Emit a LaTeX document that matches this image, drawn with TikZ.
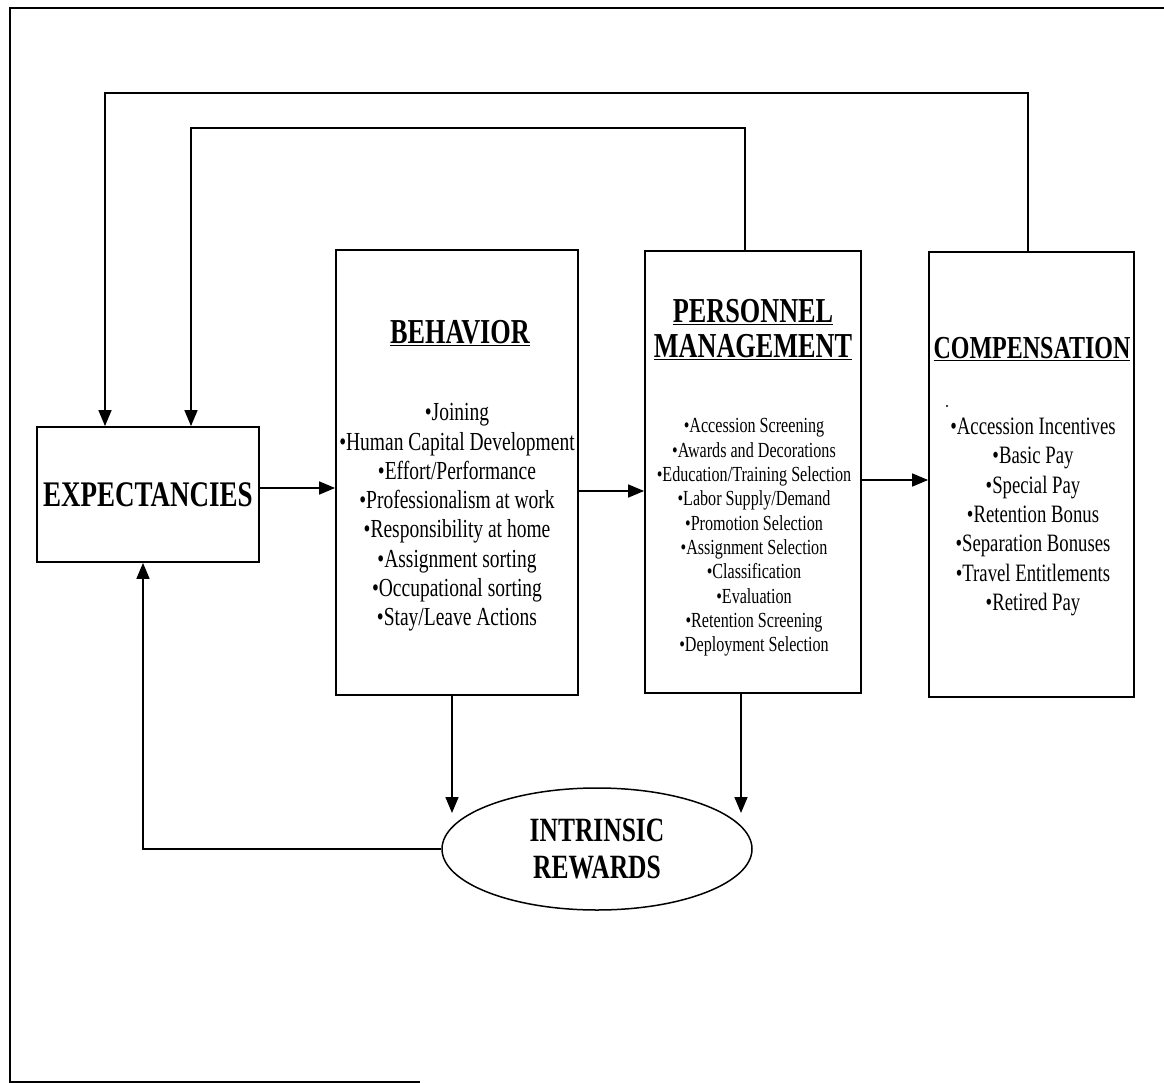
\documentclass[tikz,border=0pt]{standalone}
\usepackage{fontspec}
\setmainfont{Liberation Serif}[FakeStretch=0.75]
\usetikzlibrary{arrows.meta,shapes.geometric}
\begin{document}
\begin{tikzpicture}[x=1pt,y=-1pt,
  line width=1.6pt,
  >={Triangle[length=16pt,width=13pt]},
  box/.style={draw, line width=1.8pt, inner sep=0pt},
  title/.style={font=\fontsize{35}{35}\selectfont\bfseries, align=center, inner sep=0pt},
  blist/.style={align=center, inner sep=0pt}]
\useasboundingbox (0,0) rectangle (1164,1083);
% outer frame
\draw[line width=1.4pt] (1164,8) -- (10,8) -- (10,1082) -- (420,1082);
% boxes
\node[box, minimum width=222pt, minimum height=135pt,
      font=\fontsize{36}{38}\selectfont\bfseries] (exp) at (148,494.5) {EXPECTANCIES};
\node[box, minimum width=242pt, minimum height=445pt] (beh) at (457,472.5) {};
\node[box, minimum width=216pt, minimum height=442pt] (per) at (753,472) {};
\node[box, minimum width=205pt, minimum height=445pt] (comp) at (1031.5,474.5) {};
\node[ellipse, draw, line width=1.5pt, minimum width=310pt, minimum height=122pt, inner sep=0pt,
      align=center, font=\fontsize{34}{37}\selectfont\bfseries] (ir) at (597,849) {INTRINSIC\\REWARDS};
% titles
\node[title] (behT) at (460,333) {\underline{BEHAVIOR}};
\node[title] (perT) at (753,330) {\underline{PERSONNEL}\\\underline{MANAGEMENT}};
\node[title, font=\fontsize{32}{34}\selectfont\bfseries] (compT) at (1032,349) {\underline{COMPENSATION}};
% lists
\node[blist, font=\fontsize{26}{29.3}\selectfont] (behL) at (457,517.5)
  {•Joining\\•Human Capital Development\\•Effort/Performance\\•Professionalism at work\\•Responsibility at home\\•Assignment sorting\\•Occupational sorting\\•Stay/Leave Actions};
\node[blist, font=\fontsize{21.5}{24.3}\selectfont] (perL) at (754,537.5)
  {•Accession Screening\\•Awards and Decorations\\•Education/Training Selection\\•Labor Supply/Demand\\•Promotion Selection\\•Assignment Selection\\•Classification\\•Evaluation\\•Retention Screening\\•Deployment Selection};
\node[blist, font=\fontsize{25}{29.3}\selectfont] (compL) at (1033,517)
  {•Accession Incentives\\•Basic Pay\\•Special Pay\\•Retention Bonus\\•Separation Bonuses\\•Travel Entitlements\\•Retired Pay};
\fill (947,406) circle (1.2pt);
% helper coordinates
\coordinate (r1) at (0,488);
\coordinate (r2) at (0,491);
\coordinate (r3) at (0,480);
\coordinate (oa) at (1028,93);
\coordinate (ob) at (105,93);
\coordinate (ia) at (745,128);
\coordinate (ib) at (191,128);
\coordinate (ba) at (143,0);
\coordinate (d1) at (452,813);
\coordinate (d2) at (741,813);
% connectors
\draw[->] (exp.east |- r1) -- (beh.west |- r1);
\draw[->] (beh.east |- r2) -- (per.west |- r2);
\draw[->] (per.east |- r3) -- (comp.west |- r3);
\draw[->] (comp.north -| oa) -- (oa) -- (ob) -- (exp.north -| ob);
\draw[->] (per.north -| ia) -- (ia) -- (ib) -- (exp.north -| ib);
\draw[->] (ir.west) -- (ir.west -| ba) -- (exp.south -| ba);
\draw[->] (beh.south -| d1) -- (d1);
\draw[->] (per.south -| d2) -- (d2);
\end{tikzpicture}
\end{document}
